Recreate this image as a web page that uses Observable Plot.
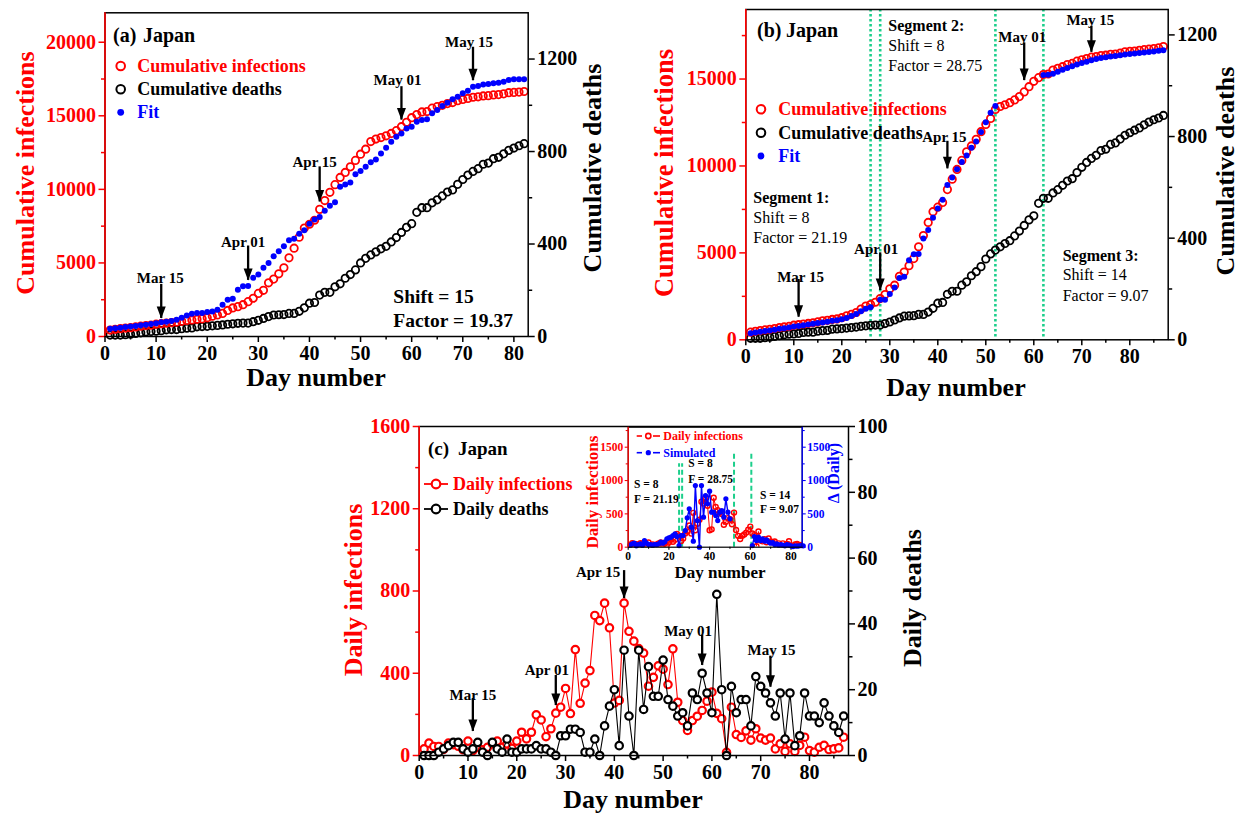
<!DOCTYPE html>
<html><head><meta charset="utf-8">
<script src="https://cdn.jsdelivr.net/npm/d3@7"></script>
<script src="https://cdn.jsdelivr.net/npm/@observablehq/plot@0.6"></script>
<style>
body{margin:0;background:#fff;}
#wrap{position:relative;width:1238px;height:813px;overflow:hidden;background:#fff;}
</style></head><body><div id="wrap"></div>
<script>
// ---------------- DATA ----------------
const days = d3.range(1, 88); // day numbers 1..87
const cumInfections = [440,490,530,570,600,650,700,740,770,840,
 870,910,940,980,1030,1090,1120,1170,1200,1270,
 1380,1460,1570,1770,1940,2030,2160,2370,2600,2930,
 3140,3650,3900,4260,4670,5350,6000,6750,7370,7630,
 7900,8640,9240,9800,10320,10810,11150,11530,11970,12390,
 12730,13250,13420,13520,13640,13800,13990,14260,14560,14870,
 15080,15260,15290,15520,15620,15710,15830,15900,16030,16110,
 16180,16260,16290,16350,16370,16420,16440,16490,16570,16590,
 16610,16650,16690,16720,16750,16790,16870];
const cumDeaths = [6,6,6,8,10,13,16,20,22,23,
 25,29,30,30,34,36,37,42,43,44,
 46,48,50,53,55,57,58,58,64,70,
 78,86,93,94,95,100,100,109,124,144,
 147,179,191,191,215,228,252,268,288,318,
 338,353,366,379,390,409,428,450,472,488,
 537,557,557,578,591,608,625,634,658,679,
 698,714,726,745,750,769,775,790,805,815,
 825,834,846,857,866,873,883];
// panel (a) fit, days 1..82
const fitA = [520,560,600,640,680,720,760,800,850,900,
 960,1000,1060,1130,1280,1430,1540,1590,1600,1660,
 1700,1810,2150,2500,2570,3180,3410,3430,3990,4220,
 4680,4990,5450,5790,6130,6540,6640,6990,7220,7670,
 7960,8130,8540,8880,9130,10170,10330,10470,11030,11240,
 11530,11850,12030,12440,12820,13230,13570,13800,14140,14250,
 14600,14710,14760,15170,15390,15660,15890,16120,16300,16530,
 16710,16980,17030,17120,17160,17210,17250,17320,17430,17480,
 17480,17480];
// panel (b) segmented fit
const fitB1Days = d3.range(1, 27);
const fitB1 = [380,420,460,500,540,580,630,670,710,760,800,840,880,920,960,1000,1040,1090,1130,1180,1260,1370,1490,1640,1790,1870];
const fitB2Days = d3.range(28, 53);
const fitB2 = [2300,2310,2640,3010,3560,3620,4570,4920,4930,5830,6320,7020,7550,8060,8900,9330,9810,10230,10600,11050,11400,11950,12520,13060,13450];
const fitB3Days = d3.range(62, 88);
const fitB3 = [15230,15240,15300,15420,15540,15640,15740,15830,15920,16000,16080,16150,16210,16250,16290,16330,16370,16410,16440,16470,16500,16530,16560,16590,16620,16650];
const segmentBounds = [26, 28, 52, 62];
// panel (c) daily
const dailyInfections = [32,60,44,44,30,60,53,45,28,70,
 24,40,28,40,57,70,40,57,35,70,
 113,81,113,198,173,92,130,206,235,326,
 204,515,254,352,413,681,656,741,621,255,
 268,741,604,556,520,498,337,380,436,420,
 345,519,259,170,122,170,191,219,264,308,
 205,179,15,235,102,88,120,75,130,85,
 75,85,32,57,20,57,20,49,89,24,
 16,40,49,29,32,37,89];
const dailyDeaths = [0,0,0,1,2,3,4,4,2,1,
 2,4,1,0,4,2,1,5,1,1,
 2,2,2,3,2,2,1,0,6,6,
 8,8,7,1,1,5,0,9,15,20,
 3,32,12,0,32,14,27,18,18,29,
 17,15,12,13,9,19,17,25,19,13,
 49,20,0,21,13,17,17,9,24,21,
 19,16,12,19,5,19,3,6,19,12,
 12,10,16,12,9,7,12];
// inset simulated
const sim1Days = d3.range(1, 27);
const sim1 = [30,50,60,20,40,50,30,100,60,40,40,30,40,40,50,75,60,80,125,140,150,175,200,160,25,175];
const sim2Days = d3.range(27, 51);
const sim2 = [175,250,440,575,300,90,925,400,0,925,450,775,650,840,525,525,475,400,525,550,450,725,525,425];
const sim3Days = d3.range(61, 87);
const sim3 = [25,160,100,150,100,125,90,110,80,60,70,40,50,30,40,30,20,40,30,20,10,20,15,20,25,20];
const insetBounds = [25, 26.5, 52, 60.5];
// date markers
const markerLabels = ["Mar 15", "Apr 01", "Apr 15", "May 01", "May 15"];
const markerDays = [11, 28, 42, 58, 72];

// ---------------- STYLE ----------------
const FONT = '"Liberation Serif", "Times New Roman", Times, serif';
const RED = "#ff0000", BLUE = "#0000ff", GREEN = "#1ccf8b";
const baseStyle = {background: "transparent", overflow: "visible", fontFamily: FONT, fontWeight: "bold"};
const wrap = document.getElementById("wrap");
function place(el, left, top) { el.style.position = "absolute"; el.style.left = left + "px"; el.style.top = top + "px"; wrap.appendChild(el); }
const fmt = d => String(Math.round(d));

const arrowHead = {draw(ctx) { ctx.moveTo(-4.5, -12); ctx.lineTo(4.5, -12); ctx.lineTo(0, 0); ctx.closePath(); }};

function axes(o) {
  const pad = o.pad ?? 3;
  return [
    Plot.axisX(o.xMajor, {tickSize: o.tick, tickPadding: pad, fontSize: o.fs, fontWeight: "bold", strokeWidth: o.sw, label: null, tickFormat: fmt, color: "black"}),
    Plot.axisX(o.xMinor, {tickSize: o.minor, tickFormat: () => "", strokeWidth: o.sw, label: null}),
    Plot.axisY(o.yMajor, {anchor: "left", color: o.yColor, tickSize: o.tick, tickPadding: pad, fontSize: o.fs, fontWeight: "bold", strokeWidth: o.sw, label: null, tickFormat: fmt}),
    Plot.axisY(o.yMinor, {anchor: "left", color: o.yColor, tickSize: o.minor, tickFormat: () => "", strokeWidth: o.sw, label: null}),
    Plot.axisY(o.y2Major.map(v => v * o.k), {anchor: "right", color: o.y2Color, tickSize: o.tick, tickPadding: pad, fontSize: o.fs, fontWeight: "bold", strokeWidth: o.sw, label: null, tickFormat: v => fmt(v / o.k)}),
    Plot.axisY(o.y2Minor.map(v => v * o.k), {anchor: "right", color: o.y2Color, tickSize: o.minor, tickFormat: () => "", strokeWidth: o.sw, label: null})
  ];
}

function arrowMarks(tips, tops, dxs, dys, fs = 15) {
  const rows = markerDays.map((day, i) => ({day, label: markerLabels[i], tip: tips[i], top: tops[i]}));
  return [
    Plot.ruleX(rows, {x: "day", y1: "tip", y2: "top", stroke: "black", strokeWidth: 2.3, insetBottom: 6}),
    Plot.dot(rows, {x: "day", y: "tip", symbol: arrowHead, fill: "black", stroke: "none"}),
    ...rows.map((r, i) => Plot.text([r], {x: "day", y: "top", text: "label", dx: dxs[i], dy: dys[i], fontSize: fs, fontWeight: "bold", lineAnchor: "middle", fill: "black"}))
  ];
}

function txt(svg, x, y, s, o = {}) {
  const t = d3.select(svg).append("text")
    .attr("x", x).attr("y", y)
    .attr("font-family", FONT)
    .attr("font-size", o.size ?? 18)
    .attr("font-weight", o.weight ?? "bold")
    .attr("fill", o.fill ?? "black")
    .attr("text-anchor", o.anchor ?? "start")
    .attr("dominant-baseline", "central")
    .text(s);
  if (o.rotate) t.attr("transform", `rotate(${o.rotate} ${x} ${y})`);
  return t;
}
function circ(svg, x, y, r, o = {}) {
  d3.select(svg).append("circle").attr("cx", x).attr("cy", y).attr("r", r)
    .attr("fill", o.fill ?? "white").attr("stroke", o.stroke ?? "none").attr("stroke-width", o.sw ?? 2);
}
function line(svg, x1, y1, x2, y2, o = {}) {
  d3.select(svg).append("line").attr("x1", x1).attr("y1", y1).attr("x2", x2).attr("y2", y2)
    .attr("stroke", o.stroke ?? "black").attr("stroke-width", o.sw ?? 1.5);
}

// ---------------- PANEL A ----------------
const kA = 22000 / 1400;
const rowsA = d3.range(82).map(i => ({day: days[i], infections: cumInfections[i], deaths: cumDeaths[i], fit: fitA[i]}));
const plotA = Plot.plot({
  width: 620, height: 400,
  marginLeft: 104.5, marginRight: 92.3, marginTop: 12.3, marginBottom: 64,
  x: {domain: [0, 82.8]}, y: {domain: [0, 22000]},
  style: baseStyle,
  marks: [
    ...axes({xMajor: d3.range(0, 81, 10), xMinor: d3.range(5, 81, 10), yMajor: d3.range(0, 20001, 5000), yMinor: d3.range(2500, 22000, 5000),
      y2Major: d3.range(0, 1201, 400), y2Minor: d3.range(200, 1400, 400), k: kA, yColor: RED, y2Color: "black", fs: 20, tick: 6, minor: 3.5, sw: 1.5}),
    Plot.dot(rowsA, {x: "day", y: d => d.deaths * kA, r: 3.7, stroke: "black", strokeWidth: 1.8}),
    Plot.dot(rowsA, {x: "day", y: "infections", r: 3.7, stroke: RED, strokeWidth: 1.8}),
    Plot.dot(rowsA, {x: "day", y: "fit", r: 3, fill: BLUE}),
    ...arrowMarks([1226, 3814, 9146, 14710, 17386], [3133, 5742, 11121, 16570, 19250], [-1, -5, -5, -4, -4], [-12, -10, -11, -12.5, -11.5]),
    Plot.frame({strokeWidth: 1.5}),
    Plot.ruleX([0], {stroke: RED, strokeWidth: 1.6})
  ]
});
txt(plotA, 113, 35, "(a)", {size: 20});
txt(plotA, 143, 35, "Japan", {size: 20});
circ(plotA, 120.7, 66, 4.3, {stroke: RED});
txt(plotA, 137.3, 66, "Cumulative infections", {fill: RED});
circ(plotA, 120.7, 89.3, 4.3, {stroke: "black"});
txt(plotA, 137.3, 89.3, "Cumulative deaths");
circ(plotA, 120.7, 112.3, 3.4, {fill: BLUE});
txt(plotA, 137.3, 112.3, "Fit", {fill: BLUE});
txt(plotA, 393.3, 296, "Shift = 15", {size: 19.5});
txt(plotA, 393.3, 320, "Factor = 19.37", {size: 19.5});
txt(plotA, 316, 377, "Day number", {size: 26, anchor: "middle"});
txt(plotA, 25, 173, "Cumulative infections", {size: 26, anchor: "middle", rotate: -90, fill: RED});
txt(plotA, 592, 168, "Cumulative deaths", {size: 26, anchor: "middle", rotate: -90});
place(plotA, 0, 0);

// ---------------- PANEL B ----------------
const kB = 19000 / 1300;
const rowsB = days.map((day, i) => ({day, infections: cumInfections[i], deaths: cumDeaths[i]}));
const fitRowsB = [
  ...fitB1Days.map((day, i) => ({day, fit: fitB1[i]})),
  ...fitB2Days.map((day, i) => ({day, fit: fitB2[i]})),
  ...fitB3Days.map((day, i) => ({day, fit: fitB3[i]}))
];
const plotB = Plot.plot({
  width: 618, height: 400,
  marginLeft: 125.3, marginRight: 70.3, marginTop: 9, marginBottom: 60.7,
  x: {domain: [0, 88]}, y: {domain: [0, 19000]},
  style: baseStyle,
  marks: [
    ...axes({xMajor: d3.range(0, 81, 10), xMinor: d3.range(5, 88, 10), yMajor: d3.range(0, 15001, 5000), yMinor: d3.range(2500, 19000, 5000),
      y2Major: d3.range(0, 1201, 400), y2Minor: d3.range(200, 1300, 400), k: kB, yColor: RED, y2Color: "black", fs: 20, tick: 6, minor: 3.5, sw: 1.5}),
    Plot.ruleX(segmentBounds, {stroke: GREEN, strokeWidth: 2.6, strokeDasharray: "2.5,2.5"}),
    Plot.dot(rowsB, {x: "day", y: d => d.deaths * kB, r: 3.7, stroke: "black", strokeWidth: 1.8}),
    Plot.dot(rowsB, {x: "day", y: "infections", r: 3.7, stroke: RED, strokeWidth: 1.8}),
    Plot.dot(fitRowsB, {x: "day", y: "fit", r: 3, fill: BLUE}),
    ...arrowMarks([1300, 2835, 9833, 14910, 16537], [3122, 4657, 11074, 16733, 17687], [2, -4, -3, -2, -1], [-8.5, -10, -10, -12, -12.5]),
    Plot.frame({strokeWidth: 1.5}),
    Plot.ruleX([0], {stroke: RED, strokeWidth: 1.6})
  ]
});
{
  const o = 620;
  txt(plotB, 757 - o, 30, "(b)", {size: 20});
  txt(plotB, 786 - o, 30, "Japan", {size: 20});
  circ(plotB, 761 - o, 109.3, 4.3, {stroke: RED, fill: "none"});
  txt(plotB, 778.3 - o, 109.3, "Cumulative infections", {fill: RED});
  circ(plotB, 761 - o, 132.7, 4.3, {stroke: "black", fill: "none"});
  txt(plotB, 778.3 - o, 132.7, "Cumulative deaths");
  circ(plotB, 761 - o, 156, 3.4, {fill: BLUE});
  txt(plotB, 778.3 - o, 156, "Fit", {fill: BLUE});
  txt(plotB, 888.3 - o, 25.7, "Segment 2:", {size: 16});
  txt(plotB, 888.3 - o, 45, "Shift = 8", {size: 16, weight: "normal"});
  txt(plotB, 888.3 - o, 65, "Factor = 28.75", {size: 16, weight: "normal"});
  txt(plotB, 753.3 - o, 197.7, "Segment 1:", {size: 16});
  txt(plotB, 753.3 - o, 217.3, "Shift = 8", {size: 16, weight: "normal"});
  txt(plotB, 753.3 - o, 237.3, "Factor = 21.19", {size: 16, weight: "normal"});
  txt(plotB, 1062.7 - o, 255, "Segment 3:", {size: 16});
  txt(plotB, 1062.7 - o, 274.3, "Shift = 14", {size: 16, weight: "normal"});
  txt(plotB, 1062.7 - o, 295, "Factor = 9.07", {size: 16, weight: "normal"});
  txt(plotB, 956 - o, 387, "Day number", {size: 26, anchor: "middle"});
  txt(plotB, 664 - o, 173, "Cumulative infections", {size: 26.5, anchor: "middle", rotate: -90, fill: RED});
  txt(plotB, 1225 - o, 171, "Cumulative deaths", {size: 26, anchor: "middle", rotate: -90});
}
place(plotB, 620, 0);

// ---------------- PANEL C ----------------
const kC = 1600 / 100;
const rowsC = days.map((day, i) => ({day, inf: dailyInfections[i], deaths: dailyDeaths[i]}));
const plotC = Plot.plot({
  width: 600, height: 403,
  marginLeft: 88.7, marginRight: 82, marginTop: 16, marginBottom: 58,
  x: {domain: [0, 88]}, y: {domain: [0, 1600]},
  style: baseStyle,
  marks: [
    ...axes({xMajor: d3.range(0, 81, 10), xMinor: d3.range(5, 88, 10), yMajor: d3.range(0, 1601, 400), yMinor: d3.range(200, 1600, 400),
      y2Major: d3.range(0, 101, 20), y2Minor: d3.range(10, 100, 20), k: kC, yColor: RED, y2Color: "black", fs: 20, tick: 6, minor: 3.5, sw: 1.5}),
    Plot.line(rowsC, {x: "day", y: "inf", stroke: RED, strokeWidth: 1.1}),
    Plot.dot(rowsC, {x: "day", y: "inf", r: 3.7, stroke: RED, strokeWidth: 2.2, fill: "white"}),
    Plot.line(rowsC, {x: "day", y: d => d.deaths * kC, stroke: "black", strokeWidth: 1.1}),
    Plot.dot(rowsC, {x: "day", y: d => d.deaths * kC, r: 3.7, stroke: "black", strokeWidth: 2.2, fill: "white"}),
    ...arrowMarks([117, 243, 763, 438, 332], [248, 360, 870, 556, 454], [0, -9, -26, -14, 1], [-9, -11, -4, -10, -12]),
    Plot.frame({strokeWidth: 1.5}),
    Plot.ruleX([0], {stroke: RED, strokeWidth: 1.6})
  ]
});
{
  const ox = 330, oy = 410;
  txt(plotC, 428 - ox, 448 - oy, "(c)", {size: 19});
  txt(plotC, 458 - ox, 448 - oy, "Japan", {size: 19});
  line(plotC, 424 - ox, 484 - oy, 448 - ox, 484 - oy, {stroke: RED, sw: 1.8});
  circ(plotC, 436 - ox, 484 - oy, 4.3, {stroke: RED, fill: "white", sw: 2.2});
  txt(plotC, 453 - ox, 484 - oy, "Daily infections", {fill: RED});
  line(plotC, 424 - ox, 509 - oy, 448 - ox, 509 - oy, {stroke: "black", sw: 1.8});
  circ(plotC, 436 - ox, 509 - oy, 4.3, {stroke: "black", fill: "white", sw: 2.2});
  txt(plotC, 453 - ox, 509 - oy, "Daily deaths");
  txt(plotC, 633 - ox, 799 - oy, "Day number", {size: 26, anchor: "middle"});
  txt(plotC, 353 - ox, 590 - oy, "Daily infections", {size: 26, anchor: "middle", rotate: -90, fill: RED});
  txt(plotC, 912 - ox, 598 - oy, "Daily deaths", {size: 26, anchor: "middle", rotate: -90});
}
place(plotC, 330, 410);

// ---------------- INSET ----------------
const simRows = [
  ...sim1Days.map((day, i) => ({day, v: sim1[i], seg: 1})),
  ...sim2Days.map((day, i) => ({day, v: sim2[i], seg: 2})),
  ...sim3Days.map((day, i) => ({day, v: sim3[i], seg: 3}))
];
const plotI = Plot.plot({
  width: 300, height: 175,
  marginLeft: 67.7, marginRight: 58.3, marginTop: 11.7, marginBottom: 43.3,
  x: {domain: [0, 85.5]}, y: {domain: [0, 1800]},
  style: baseStyle,
  marks: [
    Plot.frame({fill: "white", stroke: "none"}),
    ...axes({xMajor: d3.range(0, 81, 20), xMinor: d3.range(10, 85, 20), yMajor: d3.range(0, 1501, 500), yMinor: d3.range(250, 1800, 500),
      y2Major: d3.range(0, 1501, 500), y2Minor: d3.range(250, 1800, 500), k: 1, yColor: RED, y2Color: BLUE, fs: 11.5, tick: 3, minor: 2, sw: 1.1, pad: 2}),
    Plot.ruleX(insetBounds, {x: d => d, y1: 0, y2: (d, i) => (i < 2 ? 1250 : 1400), stroke: GREEN, strokeWidth: 2, strokeDasharray: "5,3"}),
    Plot.line(rowsC, {x: "day", y: "inf", stroke: RED, strokeWidth: 1, clip: true}),
    Plot.dot(rowsC, {x: "day", y: "inf", r: 2.5, stroke: RED, strokeWidth: 1.4, clip: true}),
    Plot.line(simRows, {x: "day", y: "v", z: "seg", stroke: BLUE, strokeWidth: 1.4}),
    Plot.dot(simRows, {x: "day", y: "v", r: 2.6, fill: BLUE}),
    Plot.frame({strokeWidth: 1.2}),
    Plot.ruleX([0], {stroke: RED, strokeWidth: 1.3}),
    Plot.ruleX([85.5], {stroke: BLUE, strokeWidth: 1.3})
  ]
});
{
  const ox = 560, oy = 415;
  line(plotI, 636.7 - ox, 436 - oy, 660 - ox, 436 - oy, {stroke: RED, sw: 1.6});
  line(plotI, 642 - ox, 436 - oy, 653 - ox, 436 - oy, {stroke: "white", sw: 3});
  circ(plotI, 648.3 - ox, 436 - oy, 2.6, {stroke: RED, fill: "white", sw: 1.6});
  txt(plotI, 663.3 - ox, 436 - oy, "Daily infections", {size: 12, fill: RED});
  line(plotI, 636.7 - ox, 452.7 - oy, 660 - ox, 452.7 - oy, {stroke: BLUE, sw: 1.6});
  line(plotI, 642 - ox, 452.7 - oy, 653 - ox, 452.7 - oy, {stroke: "white", sw: 3});
  circ(plotI, 648.3 - ox, 452.7 - oy, 2.6, {fill: BLUE});
  txt(plotI, 663.3 - ox, 452.7 - oy, "Simulated", {size: 12, fill: BLUE});
  txt(plotI, 688.3 - ox, 463.3 - oy, "S = 8", {size: 11.5});
  txt(plotI, 688.3 - ox, 479.3 - oy, "F = 28.75", {size: 11.5});
  txt(plotI, 634 - ox, 484 - oy, "S = 8", {size: 11.5});
  txt(plotI, 634 - ox, 499 - oy, "F = 21.19", {size: 11.5});
  txt(plotI, 760 - ox, 495 - oy, "S = 14", {size: 11.5});
  txt(plotI, 760 - ox, 509.3 - oy, "F = 9.07", {size: 11.5});
  txt(plotI, 720 - ox, 572 - oy, "Day number", {size: 17, anchor: "middle"});
  txt(plotI, 592 - ox, 492 - oy, "Daily infections", {size: 17, anchor: "middle", rotate: -90, fill: RED});
  txt(plotI, 833 - ox, 473 - oy, "\u0394 (Daily)", {size: 16, anchor: "middle", rotate: -90, fill: BLUE});
}
place(plotI, 560, 415);
</script>
</body></html>
